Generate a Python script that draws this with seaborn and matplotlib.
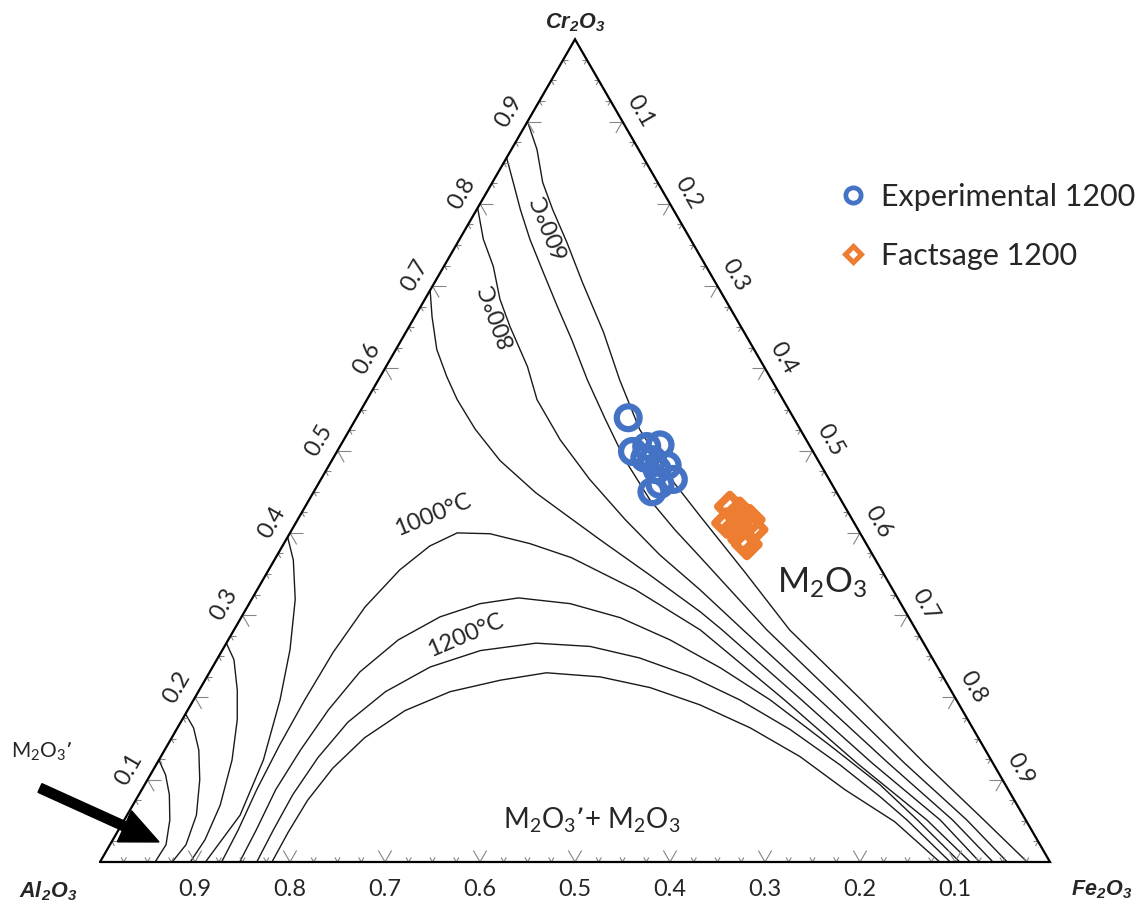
import numpy as np
import matplotlib
matplotlib.use("Agg")
import matplotlib.pyplot as plt
import seaborn as sns
from matplotlib.lines import Line2D
from matplotlib.patches import FancyArrow
from matplotlib.collections import LineCollection

# isotherms, mole fractions (Fe2O3, Cr2O3); Al2O3 = 1 - Fe2O3 - Cr2O3
# low-temperature curves have two branches: Cr-rich side and Al-rich side
t600_fe = [0.000, 0.027, 0.053, 0.080, 0.115, 0.156, 0.208, 0.254, 0.305, 0.362, 0.422, 0.503, 0.585, 0.703, 0.808, 0.905, 0.976]
t600_cr = [0.900, 0.866, 0.826, 0.793, 0.753, 0.704, 0.644, 0.586, 0.526, 0.471, 0.420, 0.352, 0.282, 0.197, 0.120, 0.051, 0.000]
t700_fe = [0.000, 0.022, 0.046, 0.074, 0.108, 0.144, 0.179, 0.220, 0.263, 0.308, 0.359, 0.403, 0.446, 0.561, 0.680, 0.787, 0.887, 0.955]
t700_cr = [0.856, 0.826, 0.793, 0.757, 0.717, 0.675, 0.635, 0.586, 0.538, 0.489, 0.440, 0.404, 0.371, 0.282, 0.197, 0.120, 0.051, 0.000]
t800_fe = [0.000, 0.025, 0.052, 0.079, 0.106, 0.149, 0.179, 0.228, 0.283, 0.345, 0.403, 0.466, 0.536, 0.659, 0.770, 0.872, 0.940]
t800_cr = [0.795, 0.757, 0.724, 0.684, 0.651, 0.602, 0.562, 0.513, 0.465, 0.416, 0.373, 0.331, 0.282, 0.197, 0.120, 0.051, 0.000]
t900_fe = [0.000, 0.018, 0.043, 0.070, 0.095, 0.132, 0.177, 0.234, 0.271, 0.330, 0.404, 0.480, 0.514, 0.640, 0.753, 0.859, 0.926]
t900_cr = [0.695, 0.663, 0.623, 0.590, 0.562, 0.526, 0.488, 0.449, 0.427, 0.392, 0.349, 0.304, 0.282, 0.197, 0.120, 0.051, 0.000]

t600_al_fe = [0.000, 0.016, 0.032, 0.048, 0.059, 0.058]
t600_al_cr = [0.124, 0.106, 0.082, 0.051, 0.021, 0.000]
t700_al_fe = [0.000, 0.017, 0.036, 0.055, 0.073, 0.080, 0.076]
t700_al_cr = [0.180, 0.163, 0.136, 0.100, 0.057, 0.021, 0.000]
t800_al_fe = [0.000, 0.018, 0.040, 0.058, 0.077, 0.092, 0.097, 0.095]
t800_al_cr = [0.266, 0.246, 0.209, 0.173, 0.124, 0.069, 0.027, 0.000]
t900_al_fe = [0.000, 0.020, 0.046, 0.071, 0.091, 0.110, 0.119, 0.111]
t900_al_cr = [0.395, 0.367, 0.319, 0.258, 0.197, 0.124, 0.057, 0.000]

# high-temperature domes on the Al2O3-Fe2O3 side
t1000_fe = [0.128, 0.126, 0.121, 0.118, 0.117, 0.118, 0.124, 0.138, 0.155, 0.176, 0.211, 0.259, 0.311, 0.398, 0.491, 0.622, 0.737, 0.845, 0.916]
t1000_cr = [0.000, 0.039, 0.088, 0.142, 0.197, 0.255, 0.310, 0.355, 0.384, 0.400, 0.399, 0.387, 0.370, 0.331, 0.282, 0.197, 0.120, 0.051, 0.000]
t1100_fe = [0.147, 0.145, 0.141, 0.143, 0.148, 0.158, 0.179, 0.209, 0.243, 0.280, 0.338, 0.399, 0.465, 0.535, 0.607, 0.697, 0.774, 0.835, 0.905]
t1100_cr = [0.000, 0.039, 0.088, 0.136, 0.185, 0.231, 0.270, 0.298, 0.314, 0.321, 0.314, 0.297, 0.270, 0.236, 0.197, 0.142, 0.094, 0.051, 0.000]
t1200_fe = [0.165, 0.163, 0.162, 0.166, 0.176, 0.197, 0.229, 0.272, 0.326, 0.385, 0.444, 0.508, 0.575, 0.646, 0.720, 0.782, 0.824, 0.895]
t1200_cr = [0.000, 0.039, 0.082, 0.127, 0.170, 0.207, 0.237, 0.257, 0.266, 0.262, 0.248, 0.226, 0.197, 0.161, 0.118, 0.079, 0.051, 0.000]
t1300_fe = [0.181, 0.180, 0.181, 0.188, 0.203, 0.229, 0.265, 0.311, 0.355, 0.414, 0.473, 0.536, 0.603, 0.673, 0.740, 0.812, 0.884]
t1300_cr = [0.000, 0.036, 0.075, 0.114, 0.151, 0.184, 0.207, 0.221, 0.230, 0.225, 0.212, 0.191, 0.163, 0.128, 0.088, 0.049, 0.000]

# measured and calculated compositions at 1200 C
exp_fe = [0.286, 0.311, 0.323, 0.336, 0.337, 0.348, 0.356, 0.371, 0.356, 0.360, 0.328]
exp_cr = [0.540, 0.499, 0.505, 0.507, 0.489, 0.477, 0.482, 0.465, 0.450, 0.459, 0.491]
fs_fe = [0.447, 0.461, 0.476, 0.454, 0.467, 0.485, 0.481, 0.488]
fs_cr = [0.432, 0.425, 0.416, 0.412, 0.408, 0.404, 0.392, 0.386]

tick_labels = ["0.1", "0.2", "0.3", "0.4", "0.5", "0.6", "0.7", "0.8", "0.9"]

H = np.sqrt(3) / 2


def to_xy(fe, cr):
    fe = np.asarray(fe, dtype=float)
    cr = np.asarray(cr, dtype=float)
    return fe + cr / 2, cr * H


sns.set_theme(style="white")
plt.rcParams["font.family"] = ["Lato", "DejaVu Sans"]
plt.rcParams["mathtext.default"] = "regular"

fig = plt.figure(figsize=(11.44, 9.07), dpi=100)
ax = fig.add_axes([0, 0, 1, 1])
ax.set_xlim(-100 / 950, 1044 / 950)
ax.set_ylim(-45 / 950, 862 / 950)
ax.set_aspect("equal")
ax.axis("off")

# isotherm lines
curves = [(t600_fe, t600_cr), (t700_fe, t700_cr), (t800_fe, t800_cr), (t900_fe, t900_cr),
          (t600_al_fe, t600_al_cr), (t700_al_fe, t700_al_cr), (t800_al_fe, t800_al_cr),
          (t900_al_fe, t900_al_cr), (t1000_fe, t1000_cr), (t1100_fe, t1100_cr),
          (t1200_fe, t1200_cr), (t1300_fe, t1300_cr)]
for fe, cr in curves:
    x, y = to_xy(fe, cr)
    sns.lineplot(x=x, y=y, sort=False, estimator=None, color="#1a1a1a",
                 linewidth=1.0, ax=ax)

# ticks: two short strokes along the other two edge directions
segs = []
for k in range(1, 40):
    t = k * 0.025
    L = 0.014 if k % 4 == 0 else 0.0055
    pts = [((t, 0.0), [(0.5, H), (-0.5, H)]),
           ((t / 2, t * H), [(1.0, 0.0), (0.5, -H)]),
           ((0.5 + t / 2, (1 - t) * H), [(-1.0, 0.0), (-0.5, -H)])]
    for (px, py), dirs in pts:
        for dx, dy in dirs:
            segs.append([(px, py), (px + L * dx, py + L * dy)])
ax.add_collection(LineCollection(segs, colors="#858585", linewidths=0.8))

# triangle frame
ax.plot([0, 1, 0.5, 0], [0, 0, H, 0], color="black", linewidth=1.6,
        solid_joinstyle="miter", zorder=4)

# tick labels
d = 0.022
for i, lab in enumerate(tick_labels):
    t = (i + 1) / 10
    # bottom axis: Al2O3 fraction
    ax.text(t, -0.0287, tick_labels[8 - i], ha="center", va="center", fontsize=17)
    # left axis: Cr2O3 fraction
    ax.text(t / 2 - d * H, t * H + d * 0.5, lab, ha="center", va="center",
            fontsize=17, rotation=60, rotation_mode="anchor")
    # right axis: Fe2O3 fraction
    ax.text(0.5 + t / 2 + d * H, (1 - t) * H + d * 0.5, lab, ha="center", va="center",
            fontsize=17, rotation=-60, rotation_mode="anchor")

# corner labels
corner_font = dict(family=["Liberation Sans", "DejaVu Sans"], fontweight="bold",
                   fontstyle="italic", fontsize=15.5, ha="center", va="center")
ax.text(0.5, 0.884, "Cr$_2$O$_3$", **corner_font)
ax.text(-0.055, -0.031, "Al$_2$O$_3$", **corner_font)
ax.text(1.054, -0.029, "Fe$_2$O$_3$", **corner_font)

# temperature labels
ax.text(0.474, 0.670, "600°C", fontsize=17, rotation=112, ha="center", va="center")
ax.text(0.418, 0.576, "800°C", fontsize=17, rotation=110, ha="center", va="center")
ax.text(0.350, 0.365, "1000°C", fontsize=17, rotation=22, ha="center", va="center")
ax.text(0.385, 0.239, "1200°C", fontsize=17, rotation=23, ha="center", va="center")

# phase field labels
ax.text(0.760, 0.294, "M$_2$O$_3$", fontsize=25, ha="center", va="center")
ax.text(0.518, 0.044, "M$_2$O$_3$\u2019+ M$_2$O$_3$", fontsize=20, ha="center", va="center")
ax.text(-0.061, 0.116, "M$_2$O$_3$\u2019", fontsize=15, ha="center", va="center")
ax.add_patch(FancyArrow(-0.0632, 0.0779, 0.1253, -0.0568, width=0.0100,
                        head_width=0.036, head_length=0.040,
                        length_includes_head=True, color="black", zorder=6))

# data points
blue = "#4472C4"
orange = "#ED7D31"
ex, ey = to_xy(exp_fe, exp_cr)
sns.scatterplot(x=ex, y=ey, marker="o", s=270, facecolor="none", edgecolor=blue,
                linewidth=4.5, ax=ax, zorder=7)
fx, fy = to_xy(fs_fe, fs_cr)
sns.scatterplot(x=fx, y=fy, marker="D", s=150, facecolor="none", edgecolor=orange,
                linewidth=5.5, ax=ax, zorder=7)

handles = [Line2D([], [], ls="none", marker="o", ms=11, mfc="none", mec=blue, mew=3.4),
           Line2D([], [], ls="none", marker="D", ms=8, mfc="white", mec=orange, mew=3.6)]
ax.legend(handles, ["Experimental 1200", "Factsage 1200"], loc="upper left",
          bbox_to_anchor=(838 / 1144, 1 - 183 / 907), bbox_transform=fig.transFigure,
          frameon=False, fontsize=22, handlelength=1.0, handletextpad=0.4,
          borderpad=0, borderaxespad=0, labelspacing=1.0)

fig.savefig("out.png", dpi=100)
